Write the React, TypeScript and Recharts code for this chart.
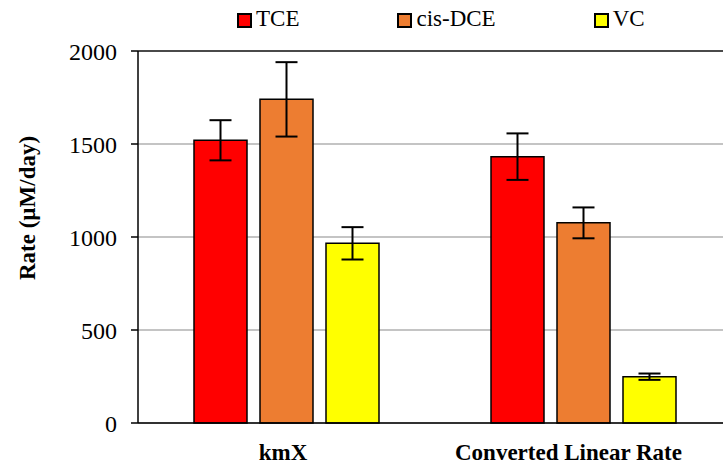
import { Bar, BarChart, CartesianGrid, ErrorBar, Label, ReferenceLine, XAxis, YAxis } from "recharts";

const categories = ["kmX", "Converted Linear Rate"];
const seriesNames = ["TCE", "cis-DCE", "VC"];
const tce = [1520, 1432];
const tceErr = [108, 125];
const dce = [1740, 1076];
const dceErr = [200, 83];
const vc = [966, 249];
const vcErr = [87, 17];
const yTicks = [0, 500, 1000, 1500, 2000];

const colors = ["#ff0000", "#ed7d31", "#ffff00"];
const serif = "Liberation Serif, Times New Roman, serif";
const data = categories.map((name, i) => ({
  name,
  tce: tce[i], tceErr: tceErr[i],
  dce: dce[i], dceErr: dceErr[i],
  vc: vc[i], vcErr: vcErr[i],
}));

// labels in the original sit a little left of the band centre
const tickShift = [-3.5, -15];

function XTick({ x, payload, index }: any) {
  return <text x={x + tickShift[index]} y={460} textAnchor="middle" fontFamily={serif} fontWeight="bold" fontSize={23} fill="#000">{payload.value}</text>;
}

function LegendBox() {
  return <div style={{ position: "absolute", top: 6, left: 237, display: "flex", alignItems: "center", fontFamily: serif, fontSize: 23, color: "#000", zIndex: 2 }}>
    {seriesNames.map((n, i) => <div key={n} style={{ display: "flex", alignItems: "center", marginRight: i < seriesNames.length - 1 ? 98 : 0 }}>
      <span style={{ width: 11, height: 11, background: colors[i], border: "2px solid #000", marginRight: 4, marginTop: 2 }} />
      <span>{n}</span>
    </div>)}
  </div>;
}

function YLabel() {
  return <text x={27} y={208} transform="rotate(-90 27 208)" textAnchor="middle" dominantBaseline="central" fontFamily={serif} fontWeight="bold" fontSize={23} fill="#000">Rate (µM/day)</text>;
}

export default function App() {
  return <div style={{ position: "absolute", top: 0, left: 0, width: 723, height: 464, overflow: "hidden", background: "#fff" }}>
    <LegendBox />
    <BarChart width={732} height={464} data={data} margin={{ top: 51, right: 0, bottom: 0, left: 0 }} barGap={13}>
      <CartesianGrid vertical={false} stroke="#b0b0b0" strokeWidth={1.5} />
      <ReferenceLine y={2000} stroke="#222" strokeWidth={1.5} />
      <XAxis dataKey="name" height={41} tickLine={false} axisLine={{ stroke: "#000", strokeWidth: 1.5 }} tick={<XTick />} interval={0} />
      <YAxis width={138} domain={[0, 2000]} ticks={yTicks} tickSize={7} tickMargin={14} axisLine={{ stroke: "#000", strokeWidth: 1.5 }} tickLine={{ stroke: "#000", strokeWidth: 1.5 }} tick={{ fill: "#000", fontSize: 24, fontFamily: serif }}>
        <Label content={<YLabel />} />
      </YAxis>
      <Bar dataKey="tce" name={seriesNames[0]} fill={colors[0]} stroke="#000" strokeWidth={1.5} barSize={53} isAnimationActive={false}>
        <ErrorBar dataKey="tceErr" width={11} stroke="#000" strokeWidth={2} direction="y" />
      </Bar>
      <Bar dataKey="dce" name={seriesNames[1]} fill={colors[1]} stroke="#000" strokeWidth={1.5} barSize={53} isAnimationActive={false}>
        <ErrorBar dataKey="dceErr" width={11} stroke="#000" strokeWidth={2} direction="y" />
      </Bar>
      <Bar dataKey="vc" name={seriesNames[2]} fill={colors[2]} stroke="#000" strokeWidth={1.5} barSize={53} isAnimationActive={false}>
        <ErrorBar dataKey="vcErr" width={11} stroke="#000" strokeWidth={2} direction="y" />
      </Bar>
    </BarChart>
  </div>;
}
